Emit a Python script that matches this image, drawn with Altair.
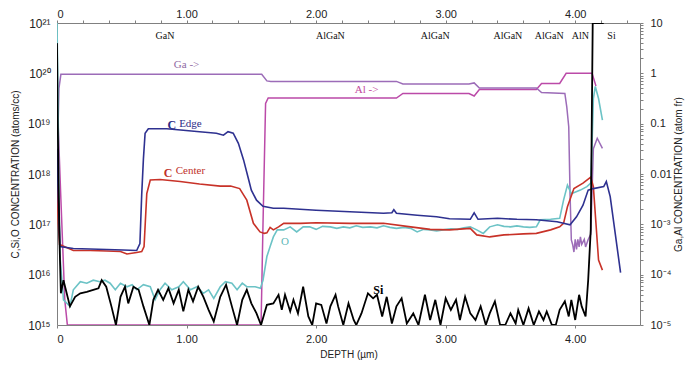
import altair as alt
import pandas as pd

# ---------------- data (depth in µm, log10 of concentration) ----------------
si_depth = [0.0, 0.006, 0.012, 0.02, 0.03, 0.05, 0.10, 0.14, 0.18, 0.23, 0.28, 0.32, 0.345, 0.38, 0.42, 0.455,
            0.49, 0.525, 0.55, 0.59, 0.63, 0.667, 0.713, 0.744, 0.78, 0.82, 0.86, 0.90, 0.94, 0.975, 1.014,
            1.05, 1.09, 1.13, 1.17, 1.21, 1.26, 1.305, 1.35, 1.39, 1.43, 1.465, 1.50, 1.54, 1.575, 1.62, 1.67,
            1.71, 1.735, 1.76, 1.80, 1.825, 1.86, 1.90, 1.94, 1.97, 2.00, 2.04, 2.08, 2.11, 2.15, 2.17, 2.21,
            2.25, 2.29, 2.31, 2.35, 2.40, 2.44, 2.47, 2.51, 2.545, 2.585, 2.62, 2.66, 2.70, 2.75, 2.79, 2.84,
            2.88, 2.92, 2.96, 3.00, 3.04, 3.08, 3.11, 3.15, 3.19, 3.23, 3.27, 3.31, 3.34, 3.38, 3.42, 3.46,
            3.50, 3.54, 3.56, 3.60, 3.64, 3.68, 3.72, 3.755, 3.78, 3.82, 3.85, 3.88, 3.92, 3.95, 3.97, 4.00,
            4.03, 4.05, 4.08, 4.10, 4.12, 4.135, 4.22]
si_log = [20.6, 19.0, 17.8, 16.6, 15.63, 15.89, 15.37, 15.56, 15.63, 15.66, 15.70, 15.73, 15.89, 15.76, 15.37, 15.0,
          15.56, 15.76, 15.43, 15.76, 15.70, 15.37, 15.0, 15.5, 15.7, 15.5, 15.73, 15.43, 15.7, 15.27, 15.7,
          15.47, 15.76, 15.56, 15.3, 15.07, 15.56, 15.8, 15.37, 15.0, 15.5, 15.7, 15.43, 15.23, 15.0, 15.4, 15.43,
          15.6, 15.3, 15.6, 15.27, 15.5, 15.23, 15.76, 15.17, 15.0, 15.43, 15.4, 15.03, 15.37, 15.6, 15.37, 15.0,
          15.43, 15.1, 15.0, 15.23, 15.63, 15.53, 15.6, 15.17, 15.56, 15.03, 15.37, 15.53, 15.03, 15.23, 15.0, 15.6,
          15.1, 15.5, 15.0, 15.53, 15.3, 15.5, 15.1, 15.56, 15.23, 15.1, 15.37, 15.0, 15.23, 15.47, 15.0, 15.0,
          15.23, 15.03, 15.3, 15.0, 15.33, 15.0, 15.27, 15.1, 15.27, 15.0, 15.0, 15.3, 15.47, 15.17, 15.5, 15.1,
          15.6, 15.37, 15.17, 15.89, 16.9, 21.0, 21.0]

o_depth = [0.0, 0.008, 0.015, 0.025, 0.05, 0.10, 0.126, 0.18, 0.23, 0.28, 0.33, 0.37, 0.41, 0.45, 0.49, 0.54,
           0.58, 0.615, 0.667, 0.72, 0.757, 0.795, 0.834, 0.886, 0.94, 0.975, 1.03, 1.08, 1.13, 1.17, 1.21,
           1.26, 1.30, 1.35, 1.39, 1.43, 1.465, 1.53, 1.57, 1.59, 1.62, 1.645, 1.67, 1.70, 1.75, 1.80, 1.85,
           1.90, 1.95, 2.00, 2.05, 2.11, 2.16, 2.21, 2.26, 2.31, 2.36, 2.42, 2.47, 2.52, 2.57, 2.62, 2.68,
           2.73, 2.78, 2.83, 2.88, 2.93, 2.98, 3.04, 3.09, 3.14, 3.19, 3.24, 3.29, 3.34, 3.40, 3.45, 3.50,
           3.55, 3.60, 3.65, 3.70, 3.73, 3.81, 3.88, 3.91, 3.94, 3.97, 4.04, 4.09, 4.12, 4.13, 4.14, 4.155,
           4.18, 4.21]
o_log = [21.0, 19.5, 17.5, 16.3, 15.5, 15.37, 15.70, 15.86, 15.83, 15.89, 15.86, 15.89, 15.83, 15.70, 15.83, 15.76,
         15.8, 15.70, 15.8, 15.76, 15.5, 15.70, 15.83, 15.70, 15.76, 15.86, 15.70, 15.76, 15.63, 15.70, 15.53,
         15.76, 15.86, 15.83, 15.70, 15.83, 15.76, 15.76, 15.73, 15.89, 16.36, 16.56, 16.75, 16.89, 16.89, 16.95, 16.85,
         16.95, 16.95, 16.90, 16.96, 16.95, 16.92, 16.95, 16.93, 16.97, 16.94, 16.95, 16.93, 16.97, 16.94, 16.92, 16.94,
         16.92, 16.85, 16.90, 16.89, 16.87, 16.89, 16.91, 16.90, 16.93, 16.95, 16.89, 16.82, 16.95, 16.99, 16.96, 16.95,
         16.97, 16.95, 16.94, 16.95, 17.09, 17.10, 17.12, 17.48, 17.78, 17.61, 17.68, 17.75, 17.82, 18.6, 19.5, 19.74,
         19.5, 19.07]

c_edge_depth = [0.0, 0.01, 0.023, 0.126, 0.255, 0.384, 0.51, 0.615, 0.64, 0.654, 0.667, 0.68, 0.705, 0.847, 0.975,
                1.10, 1.23, 1.285, 1.32, 1.36, 1.40, 1.44, 1.48, 1.50, 1.54, 1.59, 1.67, 1.75, 2.0, 2.26, 2.52,
                2.585, 2.60, 2.62, 2.78, 2.93, 3.03, 3.19, 3.22, 3.25, 3.40, 3.55, 3.70, 3.86, 3.96, 4.01, 4.06,
                4.10, 4.14, 4.22, 4.24, 4.27, 4.35]
c_edge_log = [18.5, 17.5, 16.56, 16.52, 16.51, 16.50, 16.49, 16.48, 16.62, 17.6, 18.3, 18.81, 18.9, 18.9, 18.87,
              18.84, 18.81, 18.77, 18.84, 18.81, 18.61, 18.28, 17.88, 17.68, 17.48, 17.36, 17.32, 17.32, 17.28, 17.25, 17.22,
              17.23, 17.29, 17.22, 17.18, 17.15, 17.11, 17.10, 17.23, 17.10, 17.12, 17.10, 17.09, 17.05, 16.99, 17.15, 17.38,
              17.68, 17.71, 17.75, 17.85, 17.55, 16.04]

c_center_depth = [0.0, 0.01, 0.02, 0.126, 0.255, 0.384, 0.49, 0.54, 0.615, 0.654, 0.672, 0.693, 0.72, 0.795, 0.95,
                  1.10, 1.26, 1.34, 1.41, 1.465, 1.516, 1.567, 1.60, 1.62, 1.645, 1.67, 1.71, 1.75, 1.88, 2.0,
                  2.26, 2.52, 2.73, 2.88, 3.03, 3.19, 3.24, 3.34, 3.45, 3.60, 3.70, 3.81, 3.88, 3.91, 3.94, 3.99,
                  4.06, 4.12, 4.14, 4.18, 4.21]
c_center_log = [17.8, 17.0, 16.6, 16.48, 16.48, 16.47, 16.46, 16.41, 16.44, 16.46, 16.56, 17.61, 17.88, 17.89, 17.85,
                17.80, 17.76, 17.76, 17.71, 17.48, 17.02, 16.85, 16.82, 16.83, 16.94, 16.89, 16.95, 17.02, 17.02, 17.03,
                17.02, 17.02, 16.95, 16.90, 16.89, 16.92, 16.79, 16.75, 16.79, 16.81, 16.82, 16.89, 16.95, 17.02, 17.35, 17.71,
                17.82, 17.94, 17.75, 16.29, 16.09]

# Ga, Al: log10 of atom fraction (right axis)
ga_depth = [0.0, 0.015, 0.03, 1.58, 1.62, 1.65, 2.62, 2.67, 3.18, 3.22, 3.26, 3.70, 3.74, 3.92, 3.935, 3.95,
            3.96, 3.97, 3.98, 3.99, 4.00, 4.01, 4.02, 4.03, 4.04, 4.05, 4.07, 4.08, 4.10, 4.12, 4.14, 4.17, 4.21]
ga_log = [-2.0, -0.3, -0.02, -0.02, -0.15, -0.16, -0.16, -0.21, -0.21, -0.19, -0.29, -0.29, -0.38, -0.40, -0.67, -1.06,
          -2.39, -3.31, -3.4, -3.55, -3.3, -3.5, -3.3, -3.45, -3.25, -3.4, -3.3, -3.45, -3.3, -3.2, -1.5, -1.29, -1.49]

al_depth = [0.0, 0.03, 0.06, 0.08, 1.575, 1.59, 1.61, 1.63, 2.62, 2.67, 3.18, 3.22, 3.26, 3.70, 3.74, 3.88, 3.93,
            4.13, 4.16]
al_log = [-0.4, -2.5, -4.5, -5.0, -5.0, -3.0, -0.6, -0.49, -0.49, -0.40, -0.40, -0.45, -0.32, -0.32, -0.20, -0.20, 0.0,
          0.0, -0.25]

# labels
layer_names = ["GaN", "AlGaN", "AlGaN", "AlGaN", "AlGaN", "AlN", "Si"]
layer_depth = [0.834, 2.11, 2.92, 3.48, 3.80, 4.04, 4.28]
layer_log = 20.74

note_text = ["Ga ->", "Al ->", "Edge", "Center", "O"]
note_depth = [1.0, 2.39, 1.03, 1.03, 1.76]
note_log = [20.16, 19.66, 18.99, 18.06, 16.65]
note_color = ["#8f6aa3", "#c2489c", "#2b2b86", "#c0302a", "#5fb8b8"]

bold_text = ["C", "C", "Si"]
bold_depth = [0.886, 0.857, 2.48]
bold_log = [18.97, 18.02, 15.70]
bold_color = ["#2b2b86", "#c0302a", "#000000"]

left_ticks = [1e15, 1e16, 1e17, 1e18, 1e19, 1e20, 1e21]
left_tick_text = ["10¹⁵", "10¹⁶", "10¹⁷", "10¹⁸", "10¹⁹", "10²⁰", "10²¹"]
right_ticks = [1e-5, 1e-4, 1e-3, 0.01, 0.1, 1, 10]
right_tick_text = ["10⁻⁵", "10⁻⁴", "10⁻³", "0.01", "0.1", "1", "10"]

# ---------------- build ----------------
def series_df(depth, logs):
    return pd.DataFrame({"depth": depth, "v": [10 ** x for x in logs], "i": list(range(len(depth)))})

XDOM = [0, 4.5]
X_SCALE = alt.Scale(domain=XDOM, nice=False)
LEFT_SCALE = alt.Scale(type="log", domain=[1e15, 1e21], nice=False)
RIGHT_SCALE = alt.Scale(type="log", domain=[1e-5, 10], nice=False)


def expr_map(vals, texts, default="''"):
    e = default
    for v, t in zip(vals, texts):
        e = f"abs(datum.value/{v!r} - 1) < 1e-6 ? '{t}' : ({e})"
    return e


left_axis = alt.Axis(orient="left", values=left_ticks, labelExpr=expr_map(left_ticks, left_tick_text),
                     tickSize=0, labelPadding=7, labelFontSize=12, labelOverlap=False,
                     title="C,Si,O CONCENTRATION (atoms/cc)", titleX=-37, titleY=151, titleAngle=270)
right_minor = []
for k in range(-5, 1):
    for m in range(1, 10):
        right_minor.append(float(f"{m}e{k}"))
right_minor.append(10.0)
right_axis = alt.Axis(orient="right", values=right_minor, labelExpr=expr_map(right_ticks, right_tick_text),
                      tickSize=3, labelPadding=7, labelOverlap=False, labelFontSize=11,
                      title="Ga,Al CONCENTRATION (atom fr)", titleAngle=270, titleBaseline="top",
                      titleX=33, titleY=151)
bottom_axis = alt.Axis(orient="bottom", values=[0, 1, 2, 3, 4],
                       labelExpr="datum.value == 0 ? '0' : format(datum.value, '.2f')",
                       tickSize=3, labelPadding=5, labelOverlap=False, labelFontSize=11,
                       title="DEPTH (µm)", titlePadding=5)
top_vals = [round(0.2 * k, 1) for k in range(0, 23)]
top_axis = alt.Axis(orient="top", values=top_vals,
                    labelExpr="datum.value == 0 ? '0' : (abs(datum.value - round(datum.value)) < 1e-6 ? format(datum.value, '.2f') : '')",
                    tickSize=3, labelPadding=1, labelOverlap=False, labelFontSize=11, title=None)


def left_enc(chart):
    return chart.encode(
        x=alt.X("depth:Q", scale=X_SCALE, axis=bottom_axis, title="DEPTH (µm)"),
        y=alt.Y("v:Q", scale=LEFT_SCALE, axis=left_axis, title="C,Si,O CONCENTRATION (atoms/cc)"),
    )


def right_enc(chart):
    return chart.encode(
        x=alt.X("depth:Q", scale=X_SCALE, axis=top_axis),
        y=alt.Y("v:Q", scale=RIGHT_SCALE, axis=right_axis, title="Ga,Al CONCENTRATION (atom fr)"),
    )


def left_line(df, color, width):
    return left_enc(alt.Chart(df).mark_line(color=color, strokeWidth=width, clip=True)).encode(order="i:Q")


def right_line(df, color, width):
    return right_enc(alt.Chart(df).mark_line(color=color, strokeWidth=width, clip=True)).encode(order="i:Q")


o_layer = left_line(series_df(o_depth, o_log), "#6cc3c6", 1.6)
red_layer = left_line(series_df(c_center_depth, c_center_log), "#c83228", 1.6)
blue_layer = left_line(series_df(c_edge_depth, c_edge_log), "#2e3190", 1.6)
si_layer = left_line(series_df(si_depth, si_log), "#000000", 1.8)

layer_df = pd.DataFrame({"t": layer_names, "depth": layer_depth, "v": [10 ** layer_log] * len(layer_names)})
layer_text = left_enc(alt.Chart(layer_df).mark_text(font="Liberation Serif", fontSize=10, color="#111")).encode(
    text="t:N")

note_df = pd.DataFrame({"t": note_text, "depth": note_depth, "v": [10 ** x for x in note_log], "c": note_color})
note_layer = left_enc(alt.Chart(note_df).mark_text(font="Liberation Serif", fontSize=11)).encode(
    text="t:N", color=alt.Color("c:N", scale=None))

bold_df = pd.DataFrame({"t": bold_text, "depth": bold_depth, "v": [10 ** x for x in bold_log], "c": bold_color})
bold_layer = left_enc(alt.Chart(bold_df).mark_text(font="Liberation Serif", fontSize=12, fontWeight="bold")).encode(
    text="t:N", color=alt.Color("c:N", scale=None))

al_layer = right_line(series_df(al_depth, al_log), "#bb4aa8", 1.5)
ga_layer = right_line(series_df(ga_depth, ga_log), "#9c6cb8", 1.5)

right_group = alt.layer(al_layer, ga_layer)
left_group = alt.layer(o_layer, red_layer, blue_layer, si_layer, layer_text, note_layer, bold_layer)

chart = alt.layer(right_group, left_group).resolve_scale(
    y="independent", x="independent"
).properties(
    width=583, height=302,
    autosize=alt.AutoSizeParams(type="none"),
    padding={"left": 49, "top": 15, "right": 50, "bottom": 38},
).configure_view(stroke=None).configure_axis(
    labelFont="Liberation Sans", labelFontSize=10, labelColor="#222",
    titleFont="Liberation Sans", titleFontSize=10, titleFontWeight="normal", titleColor="#222",
    domainColor="#808080", tickColor="#808080", grid=False,
)

chart.save("out.html", embed_options={"renderer": "svg", "actions": False})
